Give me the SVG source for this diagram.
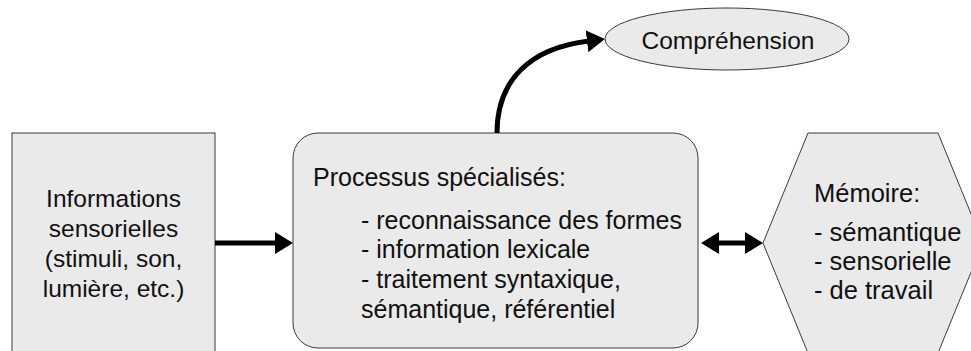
<svg xmlns="http://www.w3.org/2000/svg" width="971" height="351" viewBox="0 0 971 351">
<style>
.shape{fill:#eaeaea;stroke:#3a3a3a;stroke-width:1}
text{font-family:"Liberation Sans",Arial,sans-serif;font-size:24.5px;fill:#111}
.m{font-size:25px}
.r{font-size:25.5px}
.c{text-anchor:middle}
.conn{stroke:#000;stroke-width:5;fill:none}
</style>
<defs>
<marker id="ah" viewBox="0 0 18 22" refX="2" refY="11" markerWidth="18" markerHeight="22" markerUnits="userSpaceOnUse" orient="auto-start-reverse">
<path d="M0,0 L18,11 L0,22 Z" fill="#000"/>
</marker>
</defs>
<rect width="971" height="351" fill="#fff"/>
<g id="sensory">
<rect class="shape" x="12" y="133" width="203" height="240"/>
<text class="c" x="113.5" y="207">Informations</text>
<text class="c" x="113.5" y="237">sensorielles</text>
<text class="c" x="113.5" y="267">(stimuli, son,</text>
<text class="c" x="113.5" y="297">lumière, etc.)</text>
</g>
<g id="processes">
<rect class="shape" x="293" y="133" width="405" height="215" rx="25" ry="25"/>
<text class="m" x="313" y="186">Processus spécialisés:</text>
<text class="m" x="361" y="229">- reconnaissance des formes</text>
<text class="m" x="361" y="258">- information lexicale</text>
<text class="m" x="361" y="288">- traitement syntaxique,</text>
<text class="m" x="361" y="318">sémantique, référentiel</text>
</g>
<g id="comprehension">
<ellipse class="shape" cx="727" cy="39" rx="122" ry="31"/>
<text class="c" x="728" y="49">Compréhension</text>
</g>
<g id="memory">
<polygon class="shape" points="808,133 938,133 983,243 938,353 808,353 763,243"/>
<text class="r" x="814" y="202">Mémoire:</text>
<text class="r" x="814" y="241">- sémantique</text>
<text class="r" x="814" y="270">- sensorielle</text>
<text class="r" x="814" y="299">- de travail</text>
</g>
<g id="connectors">
<path class="conn" d="M215,243 L277,243" marker-end="url(#ah)"/>
<path class="conn" d="M497,133 C497,80 530,48 589,41" marker-end="url(#ah)"/>
<path class="conn" d="M717,243 L747,243" marker-start="url(#ah)" marker-end="url(#ah)"/>
</g>
</svg>
